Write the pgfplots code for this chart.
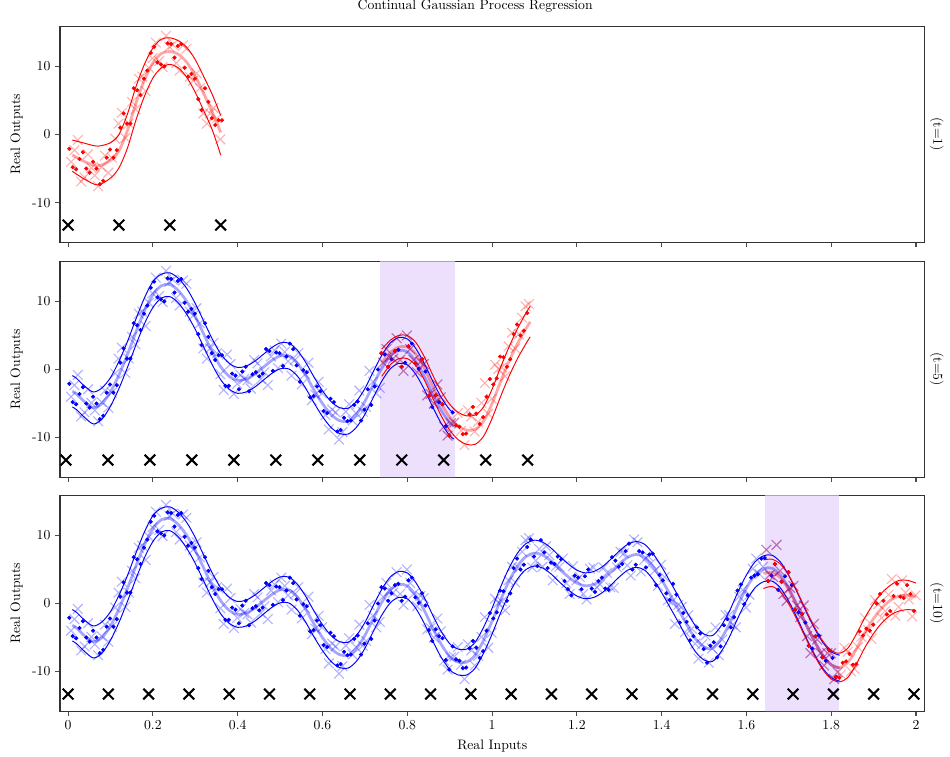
\documentclass[border=0pt]{standalone}
\usepackage{pgfplots}
\pgfplotsset{compat=1.18}
\usepackage{pgfplotstable}

\definecolor{gpred}{RGB}{255,0,0}
\definecolor{gpblue}{RGB}{0,0,255}
\definecolor{bandcol}{RGB}{236,224,253}

% posterior of the model trained on all past tasks: x, mean, lower, upper
\pgfplotstableread{
x m lo hi
0.01 -3.2 -5.5 -0.9
0.02 -3.6 -5.9 -1.3
0.04 -4.8 -7.1 -2.5
0.06 -5.6 -8.0 -3.3
0.08 -5.0 -7.3 -2.7
0.10 -3.3 -5.4 -1.2
0.12 -0.8 -2.8 1.2
0.14 2.2 0.3 4.1
0.16 5.5 3.6 7.4
0.18 8.6 6.7 10.5
0.20 11.0 9.1 12.9
0.22 12.3 10.5 14.0
0.24 12.5 10.7 14.2
0.26 11.6 9.8 13.4
0.28 10.0 8.1 11.9
0.30 7.8 5.9 9.7
0.32 5.2 3.3 7.1
0.34 2.6 0.7 4.5
0.36 0.4 -1.5 2.3
0.38 -1.0 -2.9 0.9
0.40 -1.6 -3.5 0.3
0.42 -1.4 -3.3 0.5
0.44 -0.7 -2.6 1.2
0.46 0.3 -1.6 2.2
0.48 1.3 -0.6 3.2
0.50 2.0 0.1 3.9
0.52 2.0 0.1 3.9
0.54 1.0 -0.9 2.9
0.56 -0.8 -2.7 1.1
0.58 -3.0 -4.9 -1.1
0.60 -5.0 -6.9 -3.1
0.62 -6.6 -8.5 -4.7
0.64 -7.5 -9.4 -5.6
0.66 -7.6 -9.5 -5.7
0.68 -6.6 -8.5 -4.7
0.70 -4.7 -6.6 -2.8
0.72 -2.2 -4.1 -0.3
0.74 0.2 -1.7 2.1
0.76 2.0 0.1 3.9
0.78 2.8 0.9 4.7
0.80 2.6 0.7 4.5
0.82 1.2 -0.7 3.1
0.84 -1.0 -2.9 0.9
0.86 -3.6 -5.5 -1.7
0.88 -6.0 -7.9 -4.1
0.90 -7.8 -9.7 -5.9
0.91 -8.3 -10.2 -6.4
0.92 -8.6 -10.5 -6.7
0.94 -8.6 -10.5 -6.7
0.96 -7.6 -9.5 -5.7
0.98 -5.4 -7.3 -3.5
1.00 -2.6 -4.5 -0.7
1.02 0.5 -1.4 2.4
1.04 3.3 1.4 5.2
1.06 5.5 3.6 7.4
1.08 6.9 5.0 8.8
1.10 7.4 5.5 9.3
1.12 7.1 5.2 9.0
1.14 6.2 4.3 8.1
1.16 5.0 3.1 6.9
1.18 3.9 2.0 5.8
1.20 3.0 1.1 4.9
1.22 2.6 0.7 4.5
1.24 2.8 0.9 4.7
1.26 3.5 1.6 5.4
1.28 4.6 2.7 6.5
1.30 5.8 3.9 7.7
1.32 6.8 4.9 8.7
1.34 7.2 5.3 9.1
1.36 6.8 4.9 8.7
1.38 5.4 3.5 7.3
1.40 3.5 1.6 5.4
1.42 1.3 -0.6 3.2
1.44 -0.9 -2.8 1.0
1.46 -3.2 -5.1 -1.3
1.48 -5.2 -7.1 -3.3
1.50 -6.4 -8.3 -4.5
1.52 -6.6 -8.5 -4.7
1.54 -5.2 -7.1 -3.3
1.56 -3.0 -4.9 -1.1
1.58 -0.2 -2.1 1.7
1.60 2.3 0.4 4.2
1.62 4.2 2.3 6.1
1.64 5.1 3.2 7.0
1.66 5.2 3.3 7.1
1.68 4.2 2.3 6.1
1.70 2.2 0.3 4.1
1.72 -0.3 -2.2 1.6
1.74 -3.0 -4.9 -1.1
1.76 -5.5 -7.4 -3.6
1.78 -7.6 -9.5 -5.7
1.80 -9.0 -10.9 -7.1
1.82 -9.5 -11.4 -7.6
}\oldGP

% posterior of the current task, t=1
\pgfplotstableread{
x m lo hi
0.01 -3.0 -5.4 -0.8
0.04 -4.0 -6.6 -1.3
0.07 -4.6 -7.4 -1.7
0.10 -3.8 -6.4 -1.2
0.12 -2.4 -4.9 0.0
0.14 0.6 -2.0 3.0
0.16 4.6 2.1 7.0
0.18 8.0 5.6 10.3
0.20 10.5 8.3 12.7
0.22 11.9 9.8 14.0
0.24 12.2 10.3 14.2
0.26 11.8 9.8 13.8
0.28 10.6 8.4 12.8
0.30 8.6 6.2 11.0
0.32 6.0 3.5 8.5
0.34 3.3 0.7 5.9
0.36 0.3 -3.0 2.8
}\newGPa

% posterior of the current task, t=5
\pgfplotstableread{
x m lo hi
0.74 1.0 -1.0 3.0
0.76 2.5 0.7 4.3
0.78 3.3 1.6 5.0
0.80 3.3 1.6 5.0
0.82 2.3 0.6 4.0
0.84 0.2 -1.5 1.9
0.86 -2.5 -4.2 -0.8
0.88 -5.0 -6.8 -3.2
0.90 -7.0 -8.9 -5.1
0.92 -8.3 -10.3 -6.3
0.94 -8.9 -11.0 -6.8
0.96 -8.8 -11.0 -6.7
0.98 -7.6 -9.8 -5.5
1.00 -5.0 -7.2 -2.9
1.02 -1.8 -4.0 0.3
1.04 1.2 -1.0 3.3
1.06 3.8 1.6 6.0
1.08 6.0 3.8 8.3
1.09 7.0 4.8 9.3
}\newGPb

% posterior of the current task, t=10
\pgfplotstableread{
x m lo hi
1.64 4.4 2.2 6.4
1.66 4.6 2.5 6.5
1.68 3.8 1.7 5.8
1.70 2.0 -0.1 4.1
1.72 -0.4 -2.5 1.7
1.74 -3.0 -5.1 -0.9
1.76 -5.5 -7.6 -3.4
1.78 -7.6 -9.7 -5.5
1.80 -9.0 -11.1 -6.9
1.82 -9.4 -11.5 -7.3
1.84 -8.6 -10.8 -6.5
1.86 -6.6 -8.8 -4.4
1.88 -4.2 -6.4 -2.0
1.90 -2.2 -4.4 0.0
1.92 -0.6 -2.8 1.6
1.94 0.5 -1.7 2.7
1.96 1.1 -1.1 3.4
1.98 1.2 -0.9 3.4
2.00 1.0 -1.0 3.0
}\newGPc

% observations, first half
\pgfplotstableread{
x y
0.003 -2.1
0.019 -5.1
0.035 -2.6
0.051 -5.6
0.067 -5.0
0.083 -6.8
0.099 -2.2
0.115 -2.3
0.131 3.1
0.147 1.6
0.163 6.5
0.179 8.2
0.195 12.0
0.211 10.6
0.227 10.0
0.243 13.3
0.259 13.0
0.275 9.8
0.291 8.9
0.307 5.2
0.323 6.8
0.339 2.4
0.355 2.1
0.371 -2.4
0.387 -0.6
0.403 -2.9
0.419 0.4
0.435 -0.7
0.451 -1.0
0.467 3.0
0.483 -0.2
0.499 2.4
0.515 1.9
0.531 3.0
0.547 -1.8
0.563 -0.4
0.579 -3.9
0.595 -3.2
0.611 -6.4
0.627 -4.8
0.643 -8.9
0.659 -7.6
0.675 -5.2
0.691 -7.5
0.707 -2.9
0.723 -2.5
0.739 2.4
0.755 0.4
0.771 2.7
0.787 0.4
0.803 3.4
0.819 0.9
0.835 1.5
0.851 -3.9
0.867 -3.8
0.883 -5.1
0.899 -9.7
0.915 -8.2
0.931 -9.5
0.947 -6.6
0.963 -6.5
0.979 -7.0
0.995 -1.4
1.011 -1.3
1.027 1.8
1.043 1.5
1.059 6.6
1.075 5.7
1.091 9.4
1.107 5.5
1.123 7.5
1.139 6.0
1.155 6.9
1.171 3.3
1.187 1.2
1.203 3.8
1.219 4.0
1.235 2.2
1.251 3.3
1.267 2.2
1.283 6.8
1.299 5.4
1.315 7.7
1.331 5.0
1.347 7.7
1.363 5.3
1.379 7.3
1.395 4.2
1.411 1.5
1.427 2.9
1.443 -2.8
1.459 -2.7
1.475 -4.8
1.491 -4.4
1.507 -8.7
1.523 -5.7
1.539 -6.3
1.555 -2.3
1.571 -2.0
1.587 2.8
1.603 1.2
1.619 4.1
1.635 6.6
1.651 3.3
1.667 5.8
1.683 3.2
1.699 4.6
1.715 -0.9
1.731 -1.5
1.747 -6.2
1.763 -4.8
1.779 -7.9
1.795 -6.8
1.811 -10.8
1.827 -8.7
1.843 -7.4
1.859 -8.9
1.875 -4.7
1.891 -4.0
1.907 0.0
1.923 0.4
1.939 -1.1
1.955 2.9
1.971 0.8
1.987 1.4
}\obsA

% observations, second half
\pgfplotstableread{
x y
0.011 -4.8
0.027 -3.6
0.043 -5.0
0.059 -4.0
0.075 -7.3
0.091 -3.4
0.107 -3.4
0.123 1.0
0.139 1.6
0.155 6.8
0.171 5.8
0.187 9.4
0.203 12.9
0.219 10.3
0.235 13.4
0.251 11.3
0.267 13.3
0.283 8.5
0.299 8.2
0.315 3.6
0.331 4.8
0.347 1.4
0.363 2.1
0.379 -2.4
0.395 -0.9
0.411 -0.3
0.427 -3.2
0.443 -0.4
0.459 -0.6
0.475 2.7
0.491 2.5
0.507 0.5
0.523 3.8
0.539 0.6
0.555 -0.1
0.571 -4.1
0.587 -2.5
0.603 -6.1
0.619 -4.3
0.635 -9.1
0.651 -7.1
0.667 -7.5
0.683 -4.7
0.699 -5.9
0.715 -5.2
0.731 0.0
0.747 2.2
0.763 1.5
0.779 2.9
0.795 1.0
0.811 3.8
0.827 0.1
0.843 -0.3
0.859 -5.5
0.875 -4.8
0.891 -8.3
0.907 -6.3
0.923 -8.4
0.939 -9.4
0.955 -5.5
0.971 -8.0
0.987 -4.0
1.003 -2.2
1.019 1.9
1.035 0.4
1.051 5.2
1.067 5.0
1.083 8.3
1.099 6.9
1.115 9.3
1.131 5.2
1.147 5.8
1.163 6.5
1.179 2.1
1.195 4.1
1.211 2.1
1.227 5.0
1.243 1.7
1.259 3.8
1.275 2.0
1.291 6.3
1.307 5.8
1.323 8.8
1.339 5.7
1.355 7.5
1.371 7.2
1.387 2.7
1.403 3.4
1.419 0.5
1.435 1.3
1.451 -1.4
1.467 -5.4
1.483 -3.5
1.499 -6.7
1.515 -6.2
1.531 -7.9
1.547 -3.2
1.563 -3.5
1.579 1.9
1.595 -0.1
1.611 3.8
1.627 4.3
1.643 6.7
1.659 4.1
1.675 2.0
1.691 4.0
1.707 2.7
1.723 -1.3
1.739 -2.8
1.755 -6.6
1.771 -4.7
1.787 -8.4
1.803 -8.0
1.819 -10.9
1.835 -8.5
1.851 -9.0
1.867 -4.1
1.883 -3.7
1.899 -3.1
1.915 1.4
1.931 -1.6
1.947 1.1
1.963 1.0
1.979 2.7
1.995 -1.1
}\obsB

% posterior samples, first draw
\pgfplotstableread{
x y
0.007 -4.0
0.023 -0.8
0.039 -6.3
0.055 -4.9
0.071 -7.6
0.087 -3.1
0.103 -3.4
0.119 1.6
0.135 -0.5
0.151 4.8
0.167 8.2
0.183 6.4
0.199 11.2
0.215 10.8
0.231 14.5
0.247 13.2
0.263 9.4
0.279 12.6
0.295 7.9
0.311 6.8
0.327 1.6
0.343 3.9
0.359 -0.7
0.375 2.2
0.391 -3.6
0.407 -0.8
0.423 -1.6
0.439 1.4
0.455 -1.4
0.471 -2.3
0.487 2.8
0.503 3.8
0.519 1.2
0.535 1.4
0.551 -2.2
0.567 1.0
0.583 -3.7
0.599 -3.5
0.615 -8.8
0.631 -6.3
0.647 -9.2
0.663 -5.1
0.679 -6.4
0.695 -6.2
0.711 -0.2
0.727 -3.5
0.743 1.0
0.759 1.8
0.775 4.6
0.791 -0.2
0.807 3.0
0.823 -0.4
0.839 0.8
0.855 -3.6
0.871 -2.2
0.887 -8.4
0.903 -7.9
0.919 -6.4
0.935 -11.1
0.951 -6.9
0.967 -7.7
0.983 -2.0
0.999 -4.3
1.015 0.1
1.031 -1.0
1.047 5.4
1.063 5.2
1.079 9.3
1.095 5.3
1.111 8.0
1.127 8.4
1.143 3.4
1.159 5.4
1.175 3.0
1.191 5.5
1.207 3.9
1.223 0.6
1.239 5.3
1.255 2.8
1.271 4.5
1.287 2.3
1.303 7.6
1.319 5.6
1.335 9.4
1.351 4.7
1.367 7.0
1.383 4.8
1.399 5.7
1.415 0.5
1.431 -3.0
1.447 -0.5
1.463 -1.7
1.479 -5.9
1.495 -6.0
1.511 -8.7
1.527 -3.5
1.543 -5.3
1.559 -1.7
1.575 -3.5
1.591 2.0
1.607 1.3
1.623 6.6
1.639 5.4
1.655 4.2
1.671 8.6
1.687 1.4
1.703 2.3
1.719 -0.3
1.735 -0.3
1.751 -7.3
1.767 -5.3
1.783 -9.1
1.799 -7.3
1.815 -10.1
1.831 -6.5
1.847 -10.0
1.863 -6.4
1.879 -2.1
1.895 -5.2
1.911 -0.1
1.927 -1.1
1.943 3.6
1.959 -0.5
1.975 1.6
1.991 -1.9
}\samplesA

% posterior samples, second draw
\pgfplotstableread{
x y
0.015 -2.3
0.031 -6.9
0.047 -2.9
0.063 -6.0
0.079 -4.8
0.095 -5.6
0.111 -0.6
0.127 3.2
0.143 1.6
0.159 3.7
0.175 8.5
0.191 9.8
0.207 13.5
0.223 9.9
0.239 12.9
0.255 10.5
0.271 13.1
0.287 8.5
0.303 9.0
0.319 3.1
0.335 3.1
0.351 2.4
0.367 -3.0
0.383 0.8
0.399 -2.1
0.415 -1.4
0.431 -2.8
0.447 0.9
0.463 -0.4
0.479 1.9
0.495 0.2
0.511 2.6
0.527 -0.9
0.543 2.4
0.559 -0.7
0.575 -4.5
0.591 -1.8
0.607 -6.7
0.623 -5.9
0.639 -10.3
0.655 -6.2
0.671 -7.5
0.687 -3.1
0.703 -5.5
0.719 -1.8
0.735 -2.7
0.751 3.0
0.767 1.6
0.783 1.4
0.799 5.0
0.815 1.4
0.831 1.1
0.847 -3.8
0.863 -5.0
0.879 -4.1
0.895 -9.7
0.911 -7.8
0.927 -9.0
0.943 -6.0
0.959 -9.1
0.975 -4.9
0.991 -6.5
1.007 0.7
1.023 0.3
1.039 3.4
1.055 3.1
1.071 7.6
1.087 9.6
1.103 6.3
1.119 5.4
1.135 7.1
1.151 5.5
1.167 6.6
1.183 1.4
1.199 3.4
1.215 1.4
1.231 5.1
1.247 2.4
1.263 5.3
1.279 2.4
1.295 5.3
1.311 7.4
1.327 4.1
1.343 9.0
1.359 6.4
1.375 5.9
1.391 2.6
1.407 3.9
1.423 0.2
1.439 -0.2
1.455 -4.2
1.471 -3.7
1.487 -8.1
1.503 -4.7
1.519 -6.6
1.535 -7.6
1.551 -1.7
1.567 -3.1
1.583 1.0
1.599 -0.6
1.615 5.1
1.631 4.3
1.647 7.9
1.663 3.9
1.679 4.8
1.695 0.4
1.711 2.6
1.727 -2.0
1.743 -4.8
1.759 -3.0
1.775 -7.3
1.791 -7.3
1.807 -11.1
1.823 -10.4
1.839 -7.1
1.855 -9.6
1.871 -4.9
1.887 -3.9
1.903 0.5
1.919 -2.1
1.935 1.3
1.951 -1.8
1.967 3.4
1.983 0.6
1.999 1.2
}\samplesB

\pgfplotsset{
  gppanel/.style={
    scale only axis, width=631pt, height=157.5pt, anchor=south west,
    xmin=-0.019, xmax=2.02, ymin=-15.8, ymax=15.9,
    xtick={0,0.2,0.4,0.6,0.8,1,1.2,1.4,1.6,1.8,2},
    ytick={-10,0,10}, yticklabels={-10,0,10},
    tick align=outside, xtick pos=left, ytick pos=left,
    major tick length=3.5pt,
    axis line style={black!80, line width=0.8pt},
    tick style={black!70, line width=0.8pt},
    ylabel={Real Outputs},
  },
  samp/.style={only marks, mark=x, mark size=5pt, opacity=0.3,
    mark options={line width=0.8pt}},
  obs/.style={only marks, mark=*, mark size=1.3pt},
  meanline/.style={no marks, smooth, line width=2pt, opacity=0.35},
  bound/.style={no marks, smooth, line width=0.7pt},
  inducing/.style={only marks, mark=x, mark size=5.5pt, black,
    mark options={line width=1.5pt}},
}

\begin{document}
\begin{tikzpicture}

% ---------- t = 10 ----------
\begin{axis}[gppanel, name=p3, at={(0pt,0pt)}, xlabel={Real Inputs},
  xticklabels={0,0.2,0.4,0.6,0.8,1,1.2,1.4,1.6,1.8,2}]
\addplot[fill=bandcol, draw=none] coordinates
  {(1.644,-15.8) (1.818,-15.8) (1.818,15.9) (1.644,15.9) (1.644,-15.8)};
\addplot[samp, gpblue, restrict x to domain=0:1.818] table {\samplesA};
\addplot[samp, gpblue, restrict x to domain=0:1.818] table {\samplesB};
\addplot[meanline, gpblue] table[x=x, y=m] {\oldGP};
\addplot[bound, gpblue] table[x=x, y=lo] {\oldGP};
\addplot[bound, gpblue] table[x=x, y=hi] {\oldGP};
\addplot[obs, gpblue, restrict x to domain=0:1.818] table {\obsA};
\addplot[obs, gpblue, restrict x to domain=0:1.818] table {\obsB};
\addplot[samp, gpred, restrict x to domain=1.644:2.0] table {\samplesA};
\addplot[samp, gpred, restrict x to domain=1.644:2.0] table {\samplesB};
\addplot[meanline, gpred] table[x=x, y=m] {\newGPc};
\addplot[bound, gpred] table[x=x, y=lo] {\newGPc};
\addplot[bound, gpred] table[x=x, y=hi] {\newGPc};
\addplot[obs, gpred, restrict x to domain=1.644:2.0] table {\obsA};
\addplot[obs, gpred, restrict x to domain=1.818:2.0] table {\obsB};
\addplot[inducing] coordinates {
  (0,-13.3) (0.095,-13.3) (0.19,-13.3) (0.285,-13.3) (0.38,-13.3)
  (0.475,-13.3) (0.57,-13.3) (0.665,-13.3) (0.76,-13.3) (0.855,-13.3)
  (0.95,-13.3) (1.045,-13.3) (1.14,-13.3) (1.235,-13.3) (1.33,-13.3)
  (1.425,-13.3) (1.52,-13.3) (1.615,-13.3) (1.71,-13.3) (1.805,-13.3)
  (1.9,-13.3) (1.995,-13.3)};
\end{axis}

% ---------- t = 5 ----------
\begin{axis}[gppanel, name=p2, at={(0pt,170.8pt)}, xticklabels={}]
\addplot[fill=bandcol, draw=none] coordinates
  {(0.736,-15.8) (0.913,-15.8) (0.913,15.9) (0.736,15.9) (0.736,-15.8)};
\addplot[samp, gpblue, restrict x to domain=0:0.913] table {\samplesA};
\addplot[samp, gpblue, restrict x to domain=0:0.913] table {\samplesB};
\addplot[meanline, gpblue, restrict x to domain=0:0.913] table[x=x, y=m] {\oldGP};
\addplot[bound, gpblue, restrict x to domain=0:0.913] table[x=x, y=lo] {\oldGP};
\addplot[bound, gpblue, restrict x to domain=0:0.913] table[x=x, y=hi] {\oldGP};
\addplot[obs, gpblue, restrict x to domain=0:0.913] table {\obsA};
\addplot[obs, gpblue, restrict x to domain=0:0.913] table {\obsB};
\addplot[samp, gpred, restrict x to domain=0.736:1.09] table {\samplesA};
\addplot[samp, gpred, restrict x to domain=0.736:1.09] table {\samplesB};
\addplot[meanline, gpred] table[x=x, y=m] {\newGPb};
\addplot[bound, gpred] table[x=x, y=lo] {\newGPb};
\addplot[bound, gpred] table[x=x, y=hi] {\newGPb};
\addplot[obs, gpred, restrict x to domain=0.736:1.09] table {\obsA};
\addplot[obs, gpred, restrict x to domain=0.913:1.09] table {\obsB};
\addplot[inducing] coordinates {
  (-0.005,-13.3) (0.094,-13.3) (0.193,-13.3) (0.292,-13.3)
  (0.391,-13.3) (0.490,-13.3) (0.589,-13.3) (0.688,-13.3)
  (0.787,-13.3) (0.886,-13.3) (0.985,-13.3) (1.084,-13.3)};
\end{axis}

% ---------- t = 1 ----------
\begin{axis}[gppanel, name=p1, at={(0pt,342.3pt)}, xticklabels={}]
\addplot[samp, gpred, restrict x to domain=0:0.365] table {\samplesA};
\addplot[samp, gpred, restrict x to domain=0:0.365] table {\samplesB};
\addplot[meanline, gpred] table[x=x, y=m] {\newGPa};
\addplot[bound, gpred] table[x=x, y=lo] {\newGPa};
\addplot[bound, gpred] table[x=x, y=hi] {\newGPa};
\addplot[obs, gpred, restrict x to domain=0:0.365] table {\obsA};
\addplot[obs, gpred, restrict x to domain=0:0.365] table {\obsB};
\addplot[inducing] coordinates {
  (0,-13.3) (0.12,-13.3) (0.24,-13.3) (0.36,-13.3)};
\end{axis}

\node[rotate=-90] at ([xshift=9pt]p1.east) {(t=1)};
\node[rotate=-90] at ([xshift=9pt]p2.east) {(t=5)};
\node[rotate=-90] at ([xshift=9pt]p3.east) {(t=10)};
\node at ([xshift=-12.5pt, yshift=14.5pt]p1.north) {Continual Gaussian Process Regression};

\pgfresetboundingbox
\path[use as bounding box] (-43.8pt,-32.8pt) rectangle (649.6pt,519pt);
\end{tikzpicture}
\end{document}
